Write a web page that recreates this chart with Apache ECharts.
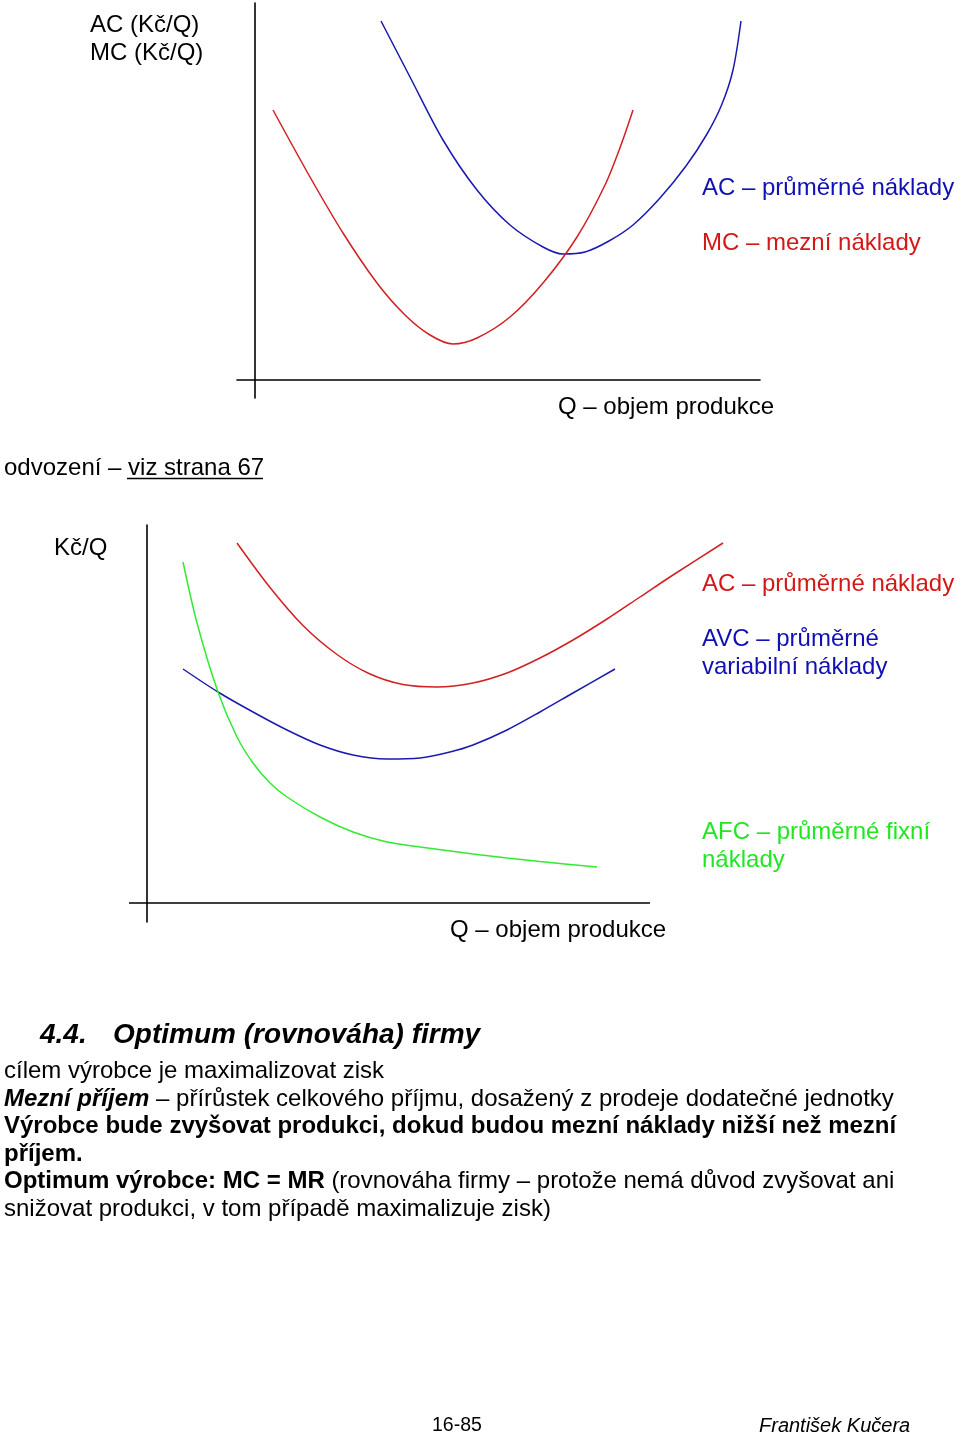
<!DOCTYPE html>
<html>
<head>
<meta charset="utf-8">
<script src="https://cdn.jsdelivr.net/npm/echarts@6/dist/echarts.min.js"></script>
<style>
html,body{margin:0;padding:0;background:#fff;}
#c{width:960px;height:1435px;}
</style>
</head>
<body>
<div id="c"></div>
<script>
// ---- Data (abstract units: Q on x, Kč/Q on y) ----
// Top chart: AC and MC
const topAC = [[12.6,35.9],[15.5,30.3],[18.8,24.0],[22.2,19.0],[25.5,15.5],[28.8,13.3],[30.8,12.6],[33.0,12.8],[35.4,13.9],[37.8,15.5],[40.5,18.2],[43.1,21.4],[45.2,24.6],[46.7,27.6],[47.8,31.0],[48.6,35.9]];
const topMC = [[1.8,27.0],[5.5,20.3],[8.8,14.7],[12.2,9.7],[15.0,6.5],[17.5,4.5],[19.8,3.6],[22.2,4.2],[25.5,6.3],[28.8,9.7],[32.2,14.3],[35.0,19.5],[36.6,23.5],[37.8,27.0]];
// Bottom chart: AC, AVC, AFC
const botAC  = [[9.0,36.0],[12.3,31.55],[15.6,27.75],[19.0,24.85],[22.3,22.9],[25.6,21.85],[29.0,21.6],[32.6,22.0],[36.0,23.0],[39.3,24.5],[42.6,26.3],[46.0,28.4],[49.3,30.6],[52.6,32.8],[57.6,36.0]];
const botAVC = [[3.6,23.4],[7.1,21.1],[10.6,19.1],[14.0,17.3],[17.3,15.8],[20.6,14.8],[24.0,14.4],[27.3,14.5],[30.3,15.1],[32.6,15.8],[36.0,17.3],[39.3,19.1],[42.6,21.0],[46.8,23.4]];
const botAFC = [[3.6,34.1],[5.0,28.0],[7.1,21.1],[9.0,16.6],[10.6,14.0],[12.3,12.0],[14.0,10.6],[17.3,8.6],[20.6,7.1],[24.0,6.1],[27.3,5.6],[32.6,4.9],[36.0,4.5],[39.3,4.15],[45.0,3.6]];
// extent of the drawn Q axis in the bottom chart
const botQAxisSpan = [-1.8, 50.3];

// ---- Texts ----
const topYLabel = ['AC (Kč/Q)', 'MC (Kč/Q)'];
const topLegend = ['AC – průměrné náklady', 'MC – mezní náklady'];
const xAxisLabel = 'Q – objem produkce';
const botYLabel = 'Kč/Q';
const botLegendAC = 'AC – průměrné náklady';
const botLegendAVC = ['AVC – průměrné', 'variabilní náklady'];
const botLegendAFC = ['AFC – průměrné fixní', 'náklady'];

const FF = '"Liberation Sans", Arial, sans-serif';
const BLUE = '#1010B4', RED = '#D41818', GREEN = '#22E622';
const LBLUE = '#1A1AB0', LRED = '#D22020', LGREEN = '#33EA33';

function txt(s, x, y, color, size, extra) {
  return Object.assign({
    type: 'text', silent: true,
    style: { text: s, x: x, y: y, fill: color || '#000', font: (size||24) + 'px ' + FF, verticalAlign: 'middle', align: 'left' }
  }, extra || {});
}

const chart = echarts.init(document.getElementById('c'), null, {renderer: 'canvas'});
const axisLineStyle = { show: true, onZero: true, lineStyle: { color: '#000', width: 1.6 } };
function ax(idx, min, max, showLine) {
  return { type: 'value', gridIndex: idx, min: min, max: max,
    axisLine: showLine ? axisLineStyle : { show: false, onZero: true },
    axisTick: {show:false}, axisLabel: {show:false}, splitLine: {show:false} };
}
function ser(data, xi, color, width) {
  return { type: 'line', data: data, xAxisIndex: xi, yAxisIndex: xi, smooth: 0.3, showSymbol: false, clip: false, silent: true,
    lineStyle: { color: color, width: width || 1.5 } };
}

const body = [
  { y: 1071, t: 'cílem výrobce je maximalizovat zisk' },
  { y: 1099, t: '{bi|Mezní příjem}{n| – přírůstek celkového příjmu, dosažený z prodeje dodatečné jednotky}' },
  { y: 1126, t: '{b|Výrobce bude zvyšovat produkci, dokud budou mezní náklady nižší než mezní}' },
  { y: 1154, t: '{b|příjem.}' },
  { y: 1181, t: '{b|Optimum výrobce: MC = MR}{n| (rovnováha firmy – protože nemá důvod zvyšovat ani}' },
  { y: 1209, t: 'snižovat produkci, v tom případě maximalizuje zisk)' }
];
const rich = {
  n: { fontSize: 24, fontFamily: FF, fill: '#000' },
  b: { fontSize: 24, fontFamily: FF, fontWeight: 'bold', fill: '#000' },
  bi: { fontSize: 24, fontFamily: FF, fontWeight: 'bold', fontStyle: 'italic', fill: '#000' }
};

const graphics = [
  txt(topYLabel[0], 90, 25, '#000'),
  txt(topYLabel[1], 90, 53, '#000'),
  txt(topLegend[0], 702, 188, BLUE),
  txt(topLegend[1], 702, 243, RED),
  txt(xAxisLabel, 558, 407, '#000'),
  txt('odvození – viz strana 67', 4, 468, '#000'),
  { type: 'line', silent: true, shape: { x1: 127, y1: 478.5, x2: 263, y2: 478.5 }, style: { stroke: '#000', lineWidth: 1.3 } },
  txt(botYLabel, 54, 548, '#000'),
  txt(botLegendAC, 702, 584, RED),
  txt(botLegendAVC[0], 702, 639, BLUE),
  txt(botLegendAVC[1], 702, 667, BLUE),
  txt(botLegendAFC[0], 702, 832, GREEN),
  txt(botLegendAFC[1], 702, 860, GREEN),
  txt(xAxisLabel, 450, 930, '#000'),
  { type: 'text', silent: true, style: { text: '4.4.', x: 40, y: 1035, fill: '#000', font: 'italic bold 28px ' + FF, verticalAlign: 'middle' } },
  { type: 'text', silent: true, style: { text: 'Optimum (rovnováha) firmy', x: 113, y: 1035, fill: '#000', font: 'italic bold 28px ' + FF, verticalAlign: 'middle' } },
  txt('16-85', 432, 1426, '#000', 19.5),
  { type: 'text', silent: true, style: { text: 'František Kučera', x: 759, y: 1426, fill: '#000', font: 'italic 20px ' + FF, verticalAlign: 'middle' } }
];
body.forEach(function (l) {
  graphics.push({ type: 'text', silent: true, style: { text: l.t, x: 4, y: l.y, fill: '#000', font: '24px ' + FF, verticalAlign: 'middle', rich: rich } });
});

chart.setOption({
  animation: false,
  backgroundColor: '#fff',
  grid: [
    { left: 237, right: 200, top: 3, bottom: 1037, containLabel: false },
    { left: 129, right: 230, top: 525, bottom: 513, containLabel: false }
  ],
  xAxis: [ ax(0, -1.8, 50.5, true), ax(1, -1.8, 58.3, false) ],
  yAxis: [ ax(0, -1.8, 37.7, true), ax(1, -1.9, 37.8, true) ],
  series: [
    ser(topAC, 0, LBLUE),
    ser(topMC, 0, LRED),
    { type: 'line', data: [[botQAxisSpan[0], 0], [botQAxisSpan[1], 0]], xAxisIndex: 1, yAxisIndex: 1, showSymbol: false, silent: true,
      lineStyle: { color: '#000', width: 1.6 } },
    ser(botAC, 1, LRED),
    ser(botAVC, 1, LBLUE),
    ser(botAFC, 1, LGREEN)
  ],
  graphic: graphics
});
</script>
</body>
</html>
